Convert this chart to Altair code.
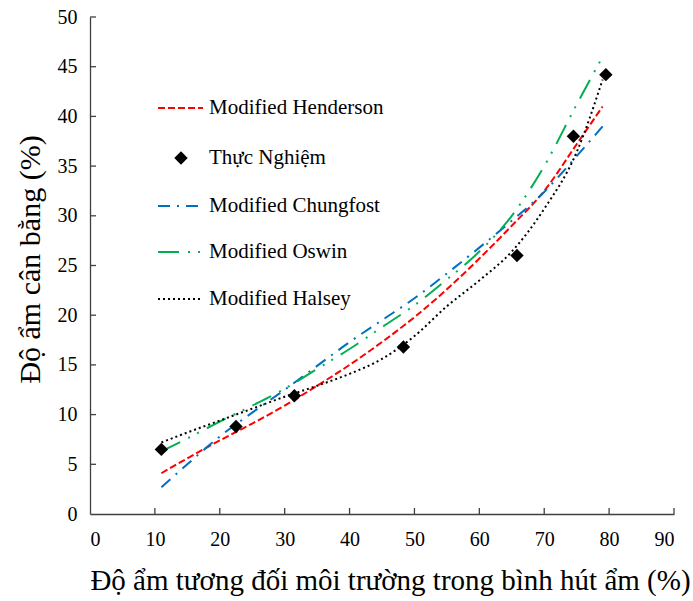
import altair as alt
import pandas as pd

# ---- data ----
curve_x = [11, 15, 20, 25, 30, 35, 40, 45, 50, 55, 60, 65, 70, 75, 79]
henderson = [4.1, 5.6, 7.4, 9.1, 10.9, 12.9, 15.0, 17.3, 19.8, 22.6, 25.7, 29.0, 32.5, 37.2, 41.0]
chungfost = [2.7, 5.0, 7.8, 10.2, 12.5, 14.9, 17.3, 19.5, 21.7, 24.2, 26.8, 29.5, 32.4, 36.0, 39.0]
oswin = [6.3, 7.6, 9.3, 10.9, 12.6, 14.6, 16.6, 18.8, 21.0, 23.6, 26.4, 30.0, 35.0, 41.2, 46.0]
halsey = [7.2, 8.2, 9.4, 10.6, 11.8, 12.9, 14.1, 15.6, 17.9, 20.9, 23.5, 26.4, 30.7, 36.4, 43.7]

exp_x = [11.0, 22.5, 31.5, 48.3, 65.8, 74.5, 79.5]
exp_y = [6.5, 8.8, 11.9, 16.8, 26.0, 38.0, 44.2]

x_ticks = [0, 10, 20, 30, 40, 50, 60, 70, 80, 90]
y_ticks = [0, 5, 10, 15, 20, 25, 30, 35, 40, 45, 50]

series_names = ["Modified Henderson", "Modified Chungfost", "Modified Oswin", "Modified Halsey"]
exp_name = "Thực Nghiệm"

# ---- styles ----
FONT = "Liberation Serif, Times New Roman, serif"
W, H = 584, 497
styles = {
    "Modified Henderson": ("#FF0000", [7, 3]),
    "Modified Chungfost": ("#0070C0", [12, 7, 2, 7]),
    "Modified Oswin": ("#00B050", [21, 9, 2, 8, 2, 9]),
    "Modified Halsey": ("#000000", [2, 3]),
}

rows = []
for name, ys in zip(series_names, [henderson, chungfost, oswin, halsey]):
    for xv, yv in zip(curve_x, ys):
        rows.append({"series": name, "x": xv, "y": yv})
curves = pd.DataFrame(rows)
exp_df = pd.DataFrame({"x": exp_x, "y": exp_y})

xs = alt.Scale(domain=[0, 90], nice=False, zero=False)
ys = alt.Scale(domain=[0, 50], nice=False, zero=False)

x_axis = alt.Axis(
    values=x_ticks, ticks=False, grid=False, domainColor="#404040", domainWidth=1.3,
    labelFont=FONT, labelFontSize=20, labelFontWeight="normal", labelColor="#000000", labelPadding=15,
    title="Độ ẩm tương đối môi trường trong bình hút ẩm (%)",
    titleFont=FONT, titleFontSize=29, titleFontWeight="normal", titleColor="#000000",
    titleX=300, titleY=66, titleBaseline="middle", titleAlign="center",
)
y_axis = alt.Axis(
    values=y_ticks, ticks=False, grid=False, domainColor="#404040", domainWidth=1.3,
    labelFont=FONT, labelFontSize=20, labelFontWeight="normal", labelColor="#000000", labelPadding=13,
    title="Độ ẩm cân bằng (%)",
    titleFont=FONT, titleFontSize=30, titleFontWeight="normal", titleColor="#000000",
    titleX=-60, titleY=242, titleAngle=-90, titleBaseline="middle", titleAlign="center",
)

lines = alt.Chart(curves).mark_line(strokeWidth=2, interpolate="monotone").encode(
    x=alt.X("x:Q", scale=xs, axis=x_axis),
    y=alt.Y("y:Q", scale=ys, axis=y_axis),
    color=alt.Color("series:N", scale=alt.Scale(domain=series_names,
                    range=[styles[n][0] for n in series_names]), legend=None),
    strokeDash=alt.StrokeDash("series:N", scale=alt.Scale(domain=series_names,
                    range=[styles[n][1] for n in series_names]), legend=None),
    detail="series:N",
)

points = alt.Chart(exp_df).mark_point(shape="diamond", filled=True, size=180,
                                      color="#000000", opacity=1).encode(
    x=alt.X("x:Q", scale=xs), y=alt.Y("y:Q", scale=ys))

xt = alt.Chart(pd.DataFrame({"t": x_ticks[1:]})).mark_rule(color="#404040", strokeWidth=1.3).encode(
    x=alt.X("t:Q", scale=xs), y=alt.value(H), y2=alt.value(H - 6))
yt = alt.Chart(pd.DataFrame({"t": y_ticks[1:]})).mark_rule(color="#404040", strokeWidth=1.3).encode(
    y=alt.Y("t:Q", scale=ys), x=alt.value(0), x2=alt.value(6))

# ---- manual legend ----
legend_order = ["Modified Henderson", exp_name, "Modified Chungfost", "Modified Oswin", "Modified Halsey"]
legend_y = [91, 141, 189, 235, 282]
legend_layers = []
for name, ly in zip(legend_order, legend_y):
    if name == exp_name:
        legend_layers.append(alt.Chart(exp_df).mark_point(
            shape="diamond", filled=True, size=180, color="#000000", opacity=1
        ).encode(x=alt.value(91), y=alt.value(ly)).transform_filter("datum.x < 12"))
    else:
        c, d = styles[name]
        legend_layers.append(alt.Chart(exp_df).mark_rule(
            color=c, strokeDash=d, strokeWidth=2
        ).encode(x=alt.value(68), x2=alt.value(113), y=alt.value(ly)).transform_filter("datum.x < 12"))
    legend_layers.append(alt.Chart(exp_df).mark_text(
        align="left", baseline="middle", font=FONT, fontSize=21, fontWeight="normal", color="#000000"
    ).encode(x=alt.value(119), y=alt.value(ly), text=alt.value(name)).transform_filter("datum.x < 12"))

chart = alt.layer(lines, points, xt, yt, *legend_layers).properties(
    width=W, height=H,
    autosize=alt.AutoSizeParams(type="none"),
    padding={"left": 90, "top": 17, "right": 19, "bottom": 87},
    background="#ffffff",
).configure_view(stroke=None)

chart.save("out.html", embed_options={"renderer": "svg", "actions": False})
